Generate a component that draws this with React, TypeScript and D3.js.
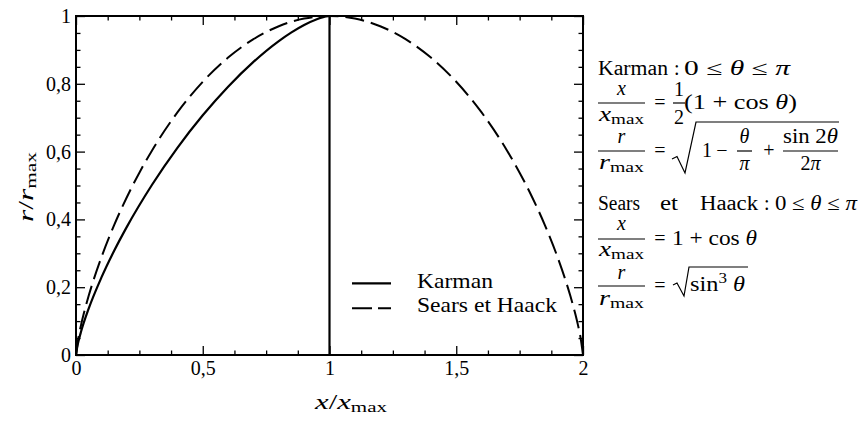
import React, { useEffect, useRef } from "react";
import * as d3 from "d3";

// ---- data ----
const karmanX = [0, 0.005, 0.01, 0.02, 0.05, 0.1, 0.15, 0.2, 0.3, 0.4, 0.5, 0.6, 0.7, 0.8, 0.85, 0.9, 0.95, 0.975, 0.99, 1];
const karmanR = [0, 0.0245, 0.0411, 0.0691, 0.1367, 0.2281, 0.3067, 0.3773, 0.5023, 0.6112, 0.7071, 0.7915, 0.8647, 0.9261, 0.9518, 0.9736, 0.9906, 0.9967, 0.9992, 1];
const karmanBaseX = [1, 1];
const karmanBaseR = [1, 0];
const searsX = [0, 0.01, 0.02, 0.03, 0.05, 0.1, 0.15, 0.2, 0.25, 0.3, 0.4, 0.5, 0.6, 0.7, 0.8, 0.9, 1, 1.1, 1.2, 1.3, 1.4, 1.5, 1.6, 1.7, 1.75, 1.8, 1.85, 1.9, 1.95, 1.97, 1.98, 1.99, 2];
const searsR = [0, 0.053, 0.0888, 0.1199, 0.1745, 0.2878, 0.3824, 0.4647, 0.5379, 0.6035, 0.7155, 0.8059, 0.8774, 0.9317, 0.9699, 0.9925, 1, 0.9925, 0.9699, 0.9317, 0.8774, 0.8059, 0.7155, 0.6035, 0.5379, 0.4647, 0.3824, 0.2878, 0.1745, 0.1199, 0.0888, 0.053, 0];
const xMajorTicks = [0, 0.5, 1, 1.5, 2];
const yMajorTicks = [0, 0.2, 0.4, 0.6, 0.8, 1];
const legendLabels = ["Karman", "Sears et Haack"];

const W = 858;
const H = 423;
const PL = 76, PR = 583, PT = 16, PB = 355;
const FONT = "Liberation Serif, Tinos, DejaVu Serif, serif";

export default function App() {
  const axRef = useRef<SVGGElement>(null);
  const x = d3.scaleLinear().domain([0, 2]).range([PL, PR]);
  const y = d3.scaleLinear().domain([0, 1]).range([PB, PT]);

  const xMinor = d3.range(0, 2.0001, 0.125).filter((v) => Math.abs(v * 2 - Math.round(v * 2)) > 1e-6);
  const yMinor = d3.range(0, 1.0001, 0.05).filter((v) => Math.abs(v * 5 - Math.round(v * 5)) > 1e-6);

  const line = d3
    .line<[number, number]>()
    .x((d) => x(d[0]))
    .y((d) => y(d[1]))
    .curve(d3.curveMonotoneX);
  const lineLin = d3
    .line<[number, number]>()
    .x((d) => x(d[0]))
    .y((d) => y(d[1]));

  const karman = karmanX.map((v, i) => [v, karmanR[i]] as [number, number]);
  const karmanBase = karmanBaseX.map((v, i) => [v, karmanBaseR[i]] as [number, number]);
  const sears = searsX.map((v, i) => [v, searsR[i]] as [number, number]);

  useEffect(() => {
    const g = d3.select(axRef.current);
    g.selectAll("*").remove();
    const fmt = (d: any) => String(d).replace(".", ",");
    const none = () => "";
    const add = (axis: any, tx: number, ty: number) => {
      const a = g.append("g").attr("transform", `translate(${tx},${ty})`).call(axis);
      a.select(".domain").remove();
      a.attr("font-family", null).attr("font-size", null);
      a.selectAll("line").attr("stroke", "#000").attr("stroke-width", 1.3);
      a.selectAll("text").attr("fill", "#000").style("font-family", FONT).style("font-size", "20px");
    };
    add(d3.axisBottom(x).tickValues(xMajorTicks).tickSizeInner(-9).tickSizeOuter(0).tickPadding(6).tickFormat(fmt), 0, PB);
    add(d3.axisBottom(x).tickValues(xMinor).tickSizeInner(-4.5).tickSizeOuter(0).tickFormat(none), 0, PB);
    add(d3.axisTop(x).tickValues(xMajorTicks).tickSizeInner(-9).tickSizeOuter(0).tickFormat(none), 0, PT);
    add(d3.axisTop(x).tickValues(xMinor).tickSizeInner(-4.5).tickSizeOuter(0).tickFormat(none), 0, PT);
    add(d3.axisLeft(y).tickValues(yMajorTicks).tickSizeInner(-9).tickSizeOuter(0).tickPadding(5).tickFormat(fmt), PL, 0);
    add(d3.axisLeft(y).tickValues(yMinor).tickSizeInner(-4.5).tickSizeOuter(0).tickFormat(none), PL, 0);
    add(d3.axisRight(y).tickValues(yMajorTicks).tickSizeInner(-9).tickSizeOuter(0).tickFormat(none), PR, 0);
    add(d3.axisRight(y).tickValues(yMinor).tickSizeInner(-4.5).tickSizeOuter(0).tickFormat(none), PR, 0);
  }, []);

  const it = { fontStyle: "italic" as const };
  const Eq = ({ cy }: { cy: number }) => (
    <text x={660} y={cy + 5.5} textAnchor="middle" fontSize={20}>=</text>
  );
  const Bar = ({ x1, x2, yy }: { x1: number; x2: number; yy: number }) => (
    <line x1={x1} x2={x2} y1={yy} y2={yy} stroke="#000" strokeWidth={1.2} />
  );
  const Sub = ({ v, x0, base }: { v: string; x0: number; base: number }) => (
    <text x={x0} y={base} fontSize={20} textLength={45} lengthAdjust="spacingAndGlyphs">
      <tspan style={it}>{v}</tspan>
      <tspan fontSize={14} dy={3}>max</tspan>
    </text>
  );

  return (
    <svg
      width={W}
      height={H}
      viewBox={`0 0 ${W} ${H}`}
      style={{ position: "absolute", left: 0, top: 0, background: "#fff", fontFamily: FONT }}
      fill="#000"
    >
      <rect x={0} y={0} width={W} height={H} fill="#fff" />
      {/* curves */}
      <path d={line(sears) || ""} fill="none" stroke="#000" strokeWidth={2} strokeDasharray="19,7" />
      <path d={line(karman) || ""} fill="none" stroke="#000" strokeWidth={2.2} />
      <path d={lineLin(karmanBase) || ""} fill="none" stroke="#000" strokeWidth={2.2} />
      {/* frame */}
      <rect x={PL} y={PT} width={PR - PL} height={PB - PT} fill="none" stroke="#000" strokeWidth={2} />
      <g ref={axRef} />

      {/* axis labels */}
      <text x={315} y={409} fontSize={22} textLength={72} lengthAdjust="spacingAndGlyphs">
        <tspan style={it}>x</tspan>
        <tspan>/</tspan>
        <tspan style={it}>x</tspan>
        <tspan fontSize={15} dy={3}>max</tspan>
      </text>
      <text transform="translate(33,187) rotate(-90)" textAnchor="middle" fontSize={22} textLength={70} lengthAdjust="spacingAndGlyphs">
        <tspan style={it}>r</tspan>
        <tspan>/</tspan>
        <tspan style={it}>r</tspan>
        <tspan fontSize={15} dy={3}>max</tspan>
      </text>

      {/* legend */}
      <line x1={352} x2={391} y1={283.3} y2={283.3} stroke="#000" strokeWidth={2.2} />
      <line x1={352} x2={391} y1={308.3} y2={308.3} stroke="#000" strokeWidth={2} strokeDasharray="20,6" />
      <text x={417} y={288} fontSize={21} textLength={76} lengthAdjust="spacingAndGlyphs">{legendLabels[0]}</text>
      <text x={417} y={312} fontSize={21} textLength={140} lengthAdjust="spacingAndGlyphs">{legendLabels[1]}</text>

      {/* Karman formulas */}
      <text x={598} y={75} fontSize={20} textLength={70} lengthAdjust="spacingAndGlyphs">Karman</text>
      <text x={674} y={75} fontSize={20}>:</text>
      <text x={684} y={75} fontSize={20} textLength={106} lengthAdjust="spacingAndGlyphs">
        0 ≤ <tspan style={it}>θ</tspan> ≤ <tspan style={it}>π</tspan>
      </text>

      <text x={621.5} y={95} fontSize={20} textAnchor="middle" style={it}>x</text>
      <Bar x1={598} x2={645} yy={103} />
      <Sub v="x" x0={599} base={121} />
      <Eq cy={103} />
      <text x={679} y={96} fontSize={20} textAnchor="middle">1</text>
      <Bar x1={673} x2={685} yy={103} />
      <text x={679} y={124} fontSize={20} textAnchor="middle">2</text>
      <text x={684} y={109} fontSize={20} textLength={113} lengthAdjust="spacingAndGlyphs">
        (1 + cos <tspan style={it}>θ</tspan>)
      </text>

      <text x={621.5} y={143} fontSize={20} textAnchor="middle" style={it}>r</text>
      <Bar x1={598} x2={645} yy={151} />
      <Sub v="r" x0={599} base={169} />
      <Eq cy={151} />
      <path d="M672,159 L677,156.5 L685,173 L696,122 L839,122" fill="none" stroke="#000" strokeWidth={1.2} />
      <text x={702} y={157} fontSize={20}>1</text>
      <text x={722} y={157} fontSize={20} textAnchor="middle">−</text>
      <text x={744.5} y={143} fontSize={20} textAnchor="middle" style={it}>θ</text>
      <Bar x1={737} x2={752} yy={151} />
      <text x={744.5} y={170} fontSize={20} textAnchor="middle" style={it}>π</text>
      <text x={769} y={157} fontSize={20} textAnchor="middle">+</text>
      <text x={783} y={143} fontSize={20} textLength={55} lengthAdjust="spacingAndGlyphs">
        sin 2<tspan style={it}>θ</tspan>
      </text>
      <Bar x1={783} x2={838} yy={151} />
      <text x={810.5} y={170} fontSize={20} textAnchor="middle">
        2<tspan style={it}>π</tspan>
      </text>

      {/* Sears-Haack formulas */}
      <text x={598} y={210} fontSize={20} textLength={42} lengthAdjust="spacingAndGlyphs">Sears</text>
      <text x={660} y={210} fontSize={20} textLength={18} lengthAdjust="spacingAndGlyphs">et</text>
      <text x={700} y={210} fontSize={20} textLength={58} lengthAdjust="spacingAndGlyphs">Haack</text>
      <text x={764} y={210} fontSize={20}>:</text>
      <text x={775} y={210} fontSize={20} textLength={82} lengthAdjust="spacingAndGlyphs">
        0 ≤ <tspan style={it}>θ</tspan> ≤ <tspan style={it}>π</tspan>
      </text>

      <text x={621.5} y={230} fontSize={20} textAnchor="middle" style={it}>x</text>
      <Bar x1={598} x2={645} yy={239} />
      <Sub v="x" x0={599} base={256} />
      <Eq cy={239} />
      <text x={672} y={245} fontSize={20} textLength={85} lengthAdjust="spacingAndGlyphs">
        1 + cos <tspan style={it}>θ</tspan>
      </text>

      <text x={621.5} y={279} fontSize={20} textAnchor="middle" style={it}>r</text>
      <Bar x1={598} x2={645} yy={286} />
      <Sub v="r" x0={599} base={305} />
      <Eq cy={286} />
      <path d="M673,285 L677,283 L684,296 L689,267 L748,267" fill="none" stroke="#000" strokeWidth={1.2} />
      <text x={690} y={291} fontSize={20} textLength={55} lengthAdjust="spacingAndGlyphs">
        sin<tspan fontSize={14} dy={-8}>3</tspan>
        <tspan dy={8}> </tspan>
        <tspan style={it}>θ</tspan>
      </text>
    </svg>
  );
}
